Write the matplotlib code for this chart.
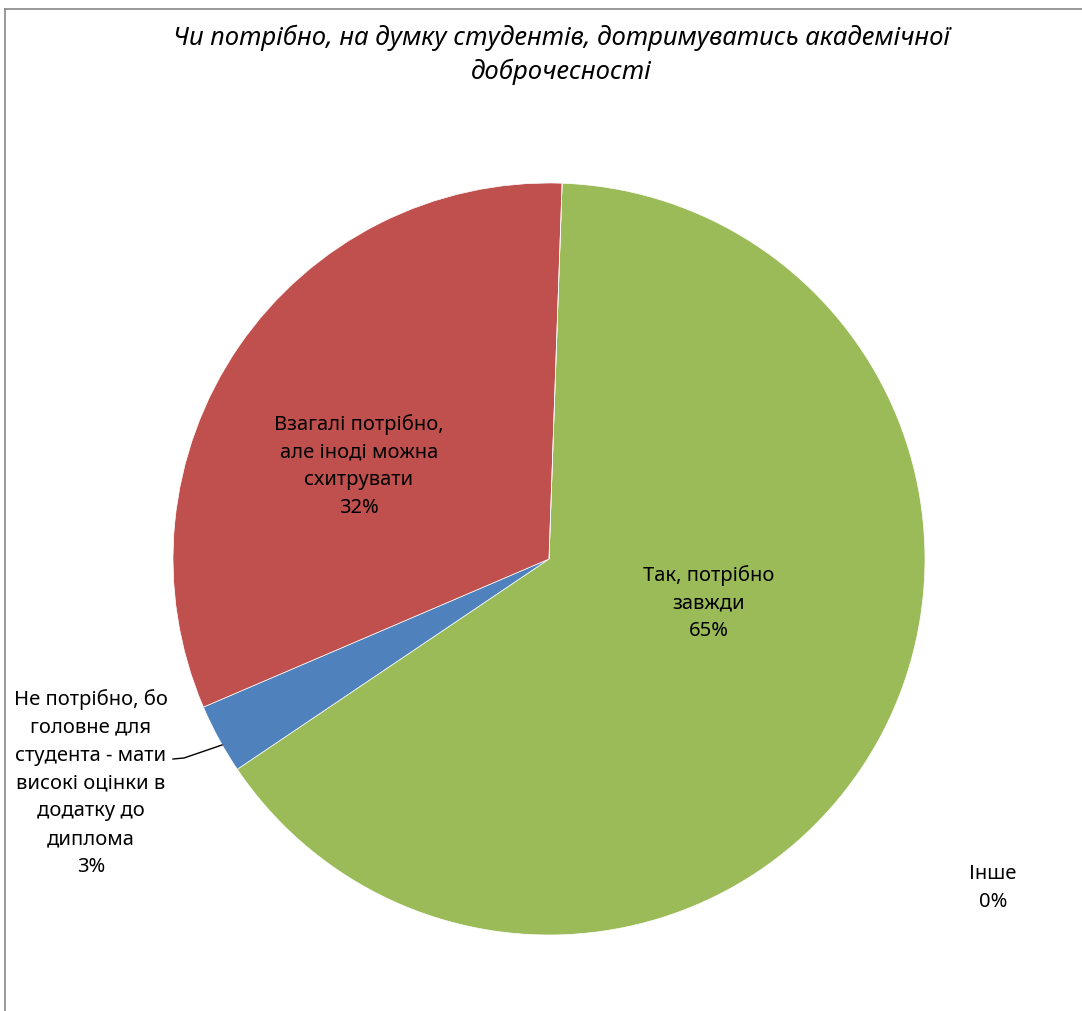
import matplotlib.pyplot as plt
from matplotlib.lines import Line2D

# Дані
categories = ["Так, потрібно\nзавжди",
              "Не потрібно, бо\nголовне для\nстудента - мати\nвисокі оцінки в\nдодатку до\nдиплома",
              "Взагалі потрібно,\nале іноді можна\nсхитрувати",
              "Інше"]
values = [65, 3, 32, 0]
colors = ['#9BBB59', '#4F81BD', '#C0504D', '#FFFFFF']
title = "Чи потрібно, на думку студентів, дотримуватись академічної\nдоброчесності"

fonts = ['Noto Sans', 'DejaVu Sans']
plt.rcParams['font.family'] = fonts

W, H = 1082, 1012
cx, cy, R = 549, 560, 376  # центр і радіус круга в пікселях

fig = plt.figure(figsize=(W / 100, H / 100), dpi=100)
ax = fig.add_axes([0, 0, 1, 1])

ax.pie(values, colors=colors, startangle=88, counterclock=False, radius=1,
       wedgeprops=dict(edgecolor='white', linewidth=0.5))

ax.set_aspect('auto')
ax.set_xlim(-cx / R, (W - cx) / R)
ax.set_ylim((cy - H) / R, cy / R)
ax.axis('off')


def px(x, y):
    return (x - cx) / R, (cy - y) / R


# підписи
pct = [f"{v}%" for v in values]
pos = [(709, 603), (91, 783), (359, 466), (993, 888)]
for c, p, (x, y) in zip(categories, pct, pos):
    ax.text(*px(x, y), c + "\n" + p, ha='center', va='center', fontsize=14.5,
            linespacing=1.52, color='black')

# лінія-виноска до малого сектора
lx, ly = zip(px(173, 760), px(184, 759), px(222, 746))
ax.plot(lx, ly, color='black', lw=1)

ax.text(*px(561, 55), title, ha='center', va='center', fontsize=18.5,
        style='italic', linespacing=1.4)

# рамка області діаграми (обрізана)
fig.add_artist(Line2D([5 / W, 1], [1 - 10 / H, 1 - 10 / H], color='#888888', lw=1.2))
fig.add_artist(Line2D([5 / W, 5 / W], [0, 1 - 10 / H], color='#888888', lw=1.2))

fig.savefig('out.png', dpi=100, facecolor='white')
